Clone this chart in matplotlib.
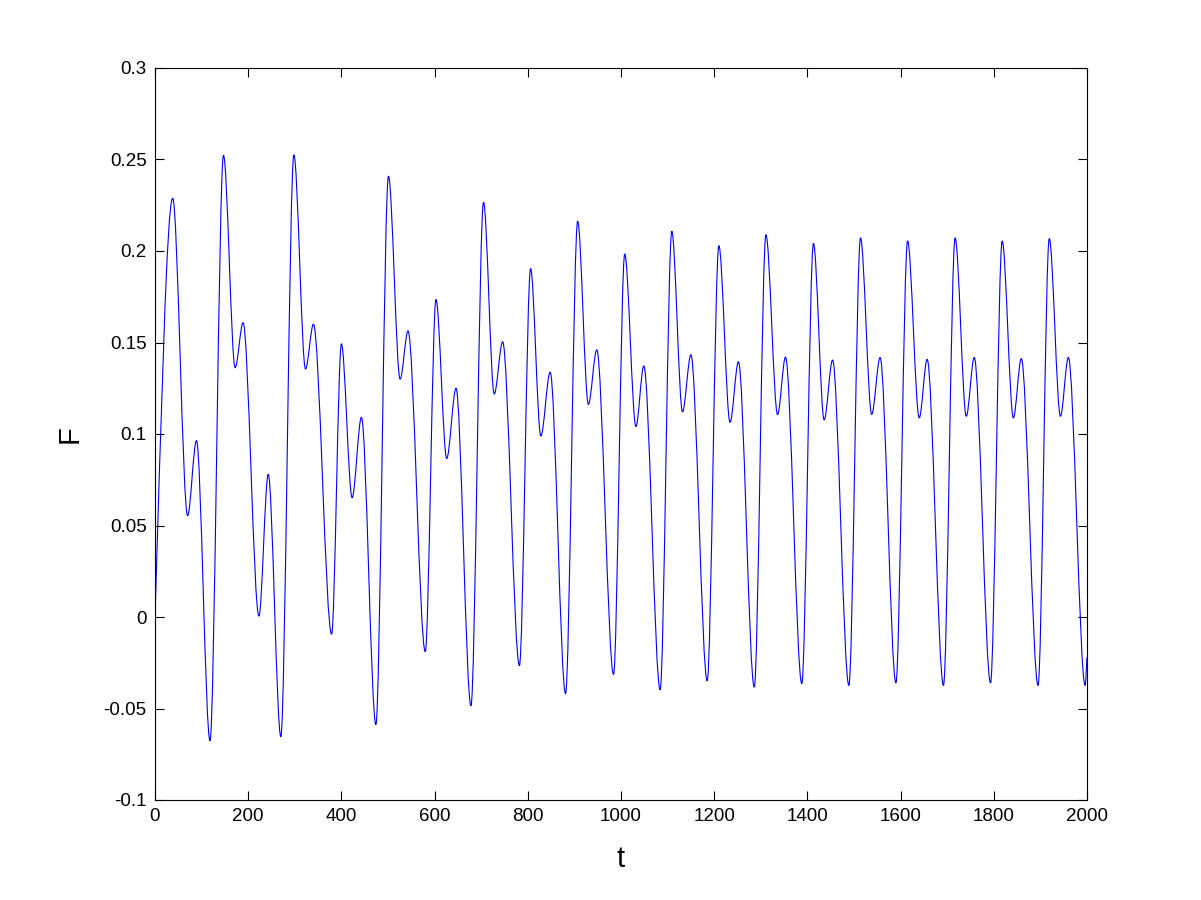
import matplotlib
matplotlib.use("Agg")
import matplotlib.pyplot as plt
from matplotlib.path import Path
from matplotlib.patches import PathPatch

# Extrema of F(t) (time, value), in order
t_ext = [0, 38, 70, 89, 118, 147, 172, 189, 223, 243, 270, 298, 323, 340, 379, 400,
         423, 443, 474, 501, 526, 543, 580, 603, 626, 646, 678, 705, 728, 746, 782,
         806, 828, 848, 881, 907, 930, 948, 984, 1008, 1032, 1049, 1084, 1109, 1132,
         1150, 1185, 1210, 1234, 1252, 1286, 1311, 1336, 1353, 1388, 1413, 1436, 1454,
         1489, 1514, 1538, 1556, 1590, 1615, 1640, 1657, 1692, 1717, 1741, 1758, 1793,
         1818, 1842, 1859, 1895, 1919, 1943, 1960, 1996, 2000]
F_ext = [0.0, 0.2288, 0.0554, 0.0964, -0.0676, 0.2523, 0.1362, 0.1608, 0.0005, 0.078,
         -0.0654, 0.2525, 0.1355, 0.160, -0.0094, 0.1493, 0.0652, 0.1091, -0.0588,
         0.2409, 0.130, 0.1563, -0.0189, 0.1735, 0.0866, 0.125, -0.0485, 0.2266,
         0.1219, 0.1504, -0.0266, 0.1904, 0.0989, 0.1338, -0.0419, 0.2163, 0.1162,
         0.146, -0.0314, 0.1984, 0.1041, 0.1372, -0.0398, 0.2108, 0.1121, 0.1433,
         -0.0349, 0.2029, 0.1064, 0.1395, -0.0383, 0.2089, 0.1106, 0.142, -0.0364,
         0.2042, 0.1077, 0.1404, -0.0374, 0.2072, 0.1107, 0.1418, -0.036, 0.2055,
         0.1088, 0.1408, -0.0374, 0.2072, 0.1097, 0.1418, -0.036, 0.2055, 0.1088,
         0.1412, -0.0374, 0.2068, 0.1097, 0.1418, -0.0374, -0.022]

x_ticks = [0, 200, 400, 600, 800, 1000, 1200, 1400, 1600, 1800, 2000]
y_ticks = [-0.1, -0.05, 0, 0.05, 0.1, 0.15, 0.2, 0.25, 0.3]
y_labels = ["-0.1", "-0.05", "0", "0.05", "0.1", "0.15", "0.2", "0.25", "0.3"]

plt.rcParams['font.family'] = ['Liberation Sans', 'DejaVu Sans']

fig = plt.figure(figsize=(12.01, 9.0), dpi=100)
ax = fig.add_axes([155 / 1201, 1 - 800 / 900, 932 / 1201, 732 / 900])

# Build a smooth path through the extrema using cubic Bezier segments
# (horizontal tangents at each extremum)
verts = [(t_ext[0], F_ext[0])]
codes = [Path.MOVETO]
n = len(t_ext)
for i in range(n - 1):
    t0, y0 = t_ext[i], F_ext[i]
    t1, y1 = t_ext[i + 1], F_ext[i + 1]
    dt = t1 - t0
    if i == 0:
        c1 = (t0 + dt / 3, y0 + (y1 - y0) * 0.45)
    else:
        c1 = (t0 + dt / 3, y0)
    if i == n - 2:
        c2 = (t1 - dt / 3, y1 - (y1 - y0) / 3)
    else:
        c2 = (t1 - dt / 3, y1)
    verts += [c1, c2, (t1, y1)]
    codes += [Path.CURVE4, Path.CURVE4, Path.CURVE4]

patch = PathPatch(Path(verts, codes), facecolor='none', edgecolor=(0, 0, 1),
                  lw=0.8, transform=ax.transData)
ax.add_patch(patch)

ax.set_xlim(0, 2000)
ax.set_ylim(-0.1, 0.3)
ax.set_xticks(x_ticks)
ax.set_xticklabels([str(v) for v in x_ticks])
ax.set_yticks(y_ticks)
ax.set_yticklabels(y_labels)

ax.tick_params(direction='in', length=6.5, width=0.8, top=True, right=True,
               labelsize=13.5, colors='black')
ax.tick_params(axis='x', pad=5.5)
ax.tick_params(axis='y', pad=6)
for s in ax.spines.values():
    s.set_linewidth(0.8)

ax.set_xlabel('t', fontsize=21, labelpad=14.5)
ax.set_ylabel('F', fontsize=21, labelpad=14)

fig.savefig('out.png', dpi=100, facecolor='white')
